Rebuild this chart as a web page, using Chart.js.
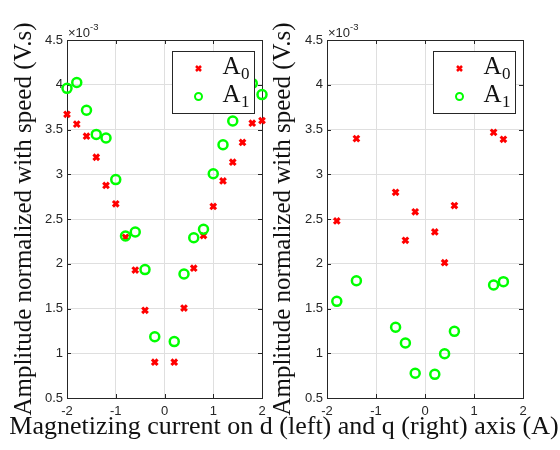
<!DOCTYPE html>
<html>
<head>
<meta charset="utf-8">
<script src="https://cdn.jsdelivr.net/npm/chart.js@4.4.1/dist/chart.umd.min.js"></script>
<style>
  html, body { margin: 0; padding: 0; background: #fff; overflow: hidden; }
  body { width: 560px; height: 450px; position: relative; }
  canvas { position: absolute; top: 0; }
  #left-plot { left: 0; }
  #right-plot { left: 270px; }
  #xlabel {
    position: absolute; left: 0; top: 413px; width: 568px;
    text-align: center; white-space: nowrap;
    font: 26px/26px "Liberation Serif", serif; color: #111;
  }
</style>
</head>
<body>
<canvas id="left-plot" width="290" height="450"></canvas>
<canvas id="right-plot" width="290" height="450"></canvas>
<div id="xlabel">Magnetizing current on d (left) and q (right) axis (A)</div>
<script>
// values in units of 1e-3 V.s
const dCurrent = [-2, -1.8, -1.6, -1.4, -1.2, -1, -0.8, -0.6, -0.4, -0.2, 0.2, 0.4, 0.6, 0.8, 1, 1.2, 1.4, 1.6, 1.8, 2];
const dA0 = [3.67, 3.56, 3.425, 3.19, 2.875, 2.67, 2.295, 1.93, 1.48, 0.90, 0.90, 1.505, 1.95, 2.315, 2.64, 2.925, 3.135, 3.355, 3.57, 3.60];
const dA1 = [3.96, 4.025, 3.715, 3.445, 3.405, 2.94, 2.31, 2.355, 1.935, 1.185, 1.13, 1.885, 2.29, 2.385, 3.005, 3.33, 3.595, 3.85, 4.015, 3.89];

const qCurrent = [-1.8, -1.4, -0.6, -0.4, -0.2, 0.2, 0.4, 0.6, 1.4, 1.6];
const qA0 = [2.478, 3.398, 2.798, 2.262, 2.58, 2.355, 2.012, 2.65, 3.468, 3.39];
const qA1 = [1.58, 1.81, 1.29, 1.115, 0.776, 0.764, 0.995, 1.245, 1.763, 1.80];

const yTicks = [0.5, 1, 1.5, 2, 2.5, 3, 3.5, 4, 4.5];
const xTicks = [-2, -1, 0, 1, 2];
const seriesNames = ['A', 'A'];
const seriesSubs = ['0', '1'];
const yTitle = 'Amplitude normalized with speed (V.s)';

const axisColor = '#262626';
const gridColor = '#dfdfdf';

function points(xs, ys) {
    return xs.map((x, i) => ({ x: x, y: ys[i] }));
}

// box, inward tick marks, legend, exponent and y label
const decorations = {
    id: 'decorations',
    beforeDatasetsDraw(chart) {
        const { ctx, chartArea: a, scales } = chart;
        ctx.save();
        ctx.strokeStyle = axisColor;
        ctx.lineWidth = 1;
        ctx.beginPath();
        xTicks.forEach(v => {
            const px = Math.round(scales.x.getPixelForValue(v)) + 0.5;
            ctx.moveTo(px, a.bottom); ctx.lineTo(px, a.bottom - 4);
            ctx.moveTo(px, a.top); ctx.lineTo(px, a.top + 4);
        });
        yTicks.forEach(v => {
            const py = Math.round(scales.y.getPixelForValue(v)) + 0.5;
            ctx.moveTo(a.left, py); ctx.lineTo(a.left + 4, py);
            ctx.moveTo(a.right, py); ctx.lineTo(a.right - 4, py);
        });
        ctx.stroke();
        ctx.strokeRect(Math.round(a.left) + 0.5, Math.round(a.top) + 0.5,
            Math.round(a.right - a.left), Math.round(a.bottom - a.top));
        ctx.restore();
    },
    afterDatasetsDraw(chart, args, opts) {
        const { ctx, chartArea: a } = chart;
        ctx.save();

        // legend
        const bx = Math.round(a.right) - 89.5, by = Math.round(a.top) + 11.5;
        ctx.fillStyle = '#fff';
        ctx.fillRect(bx, by, 82, 62);
        ctx.strokeStyle = axisColor;
        ctx.lineWidth = 1;
        ctx.strokeRect(bx, by, 82, 62);
        chart.data.datasets.forEach((ds, i) => {
            const ry = by + 17 + i * 28;
            const mx = bx + 26;
            ctx.lineWidth = 2;
            ctx.strokeStyle = ds.borderColor;
            ctx.beginPath();
            if (ds.pointStyle === 'crossRot') {
                ctx.moveTo(mx - 2.5, ry - 2.5); ctx.lineTo(mx + 2.5, ry + 2.5);
                ctx.moveTo(mx + 2.5, ry - 2.5); ctx.lineTo(mx - 2.5, ry + 2.5);
                ctx.lineWidth = 2.5;
            } else {
                ctx.arc(mx, ry, 3.5, 0, Math.PI * 2);
            }
            ctx.stroke();
            ctx.fillStyle = '#111';
            ctx.textBaseline = 'alphabetic';
            ctx.textAlign = 'left';
            ctx.font = '25px "Liberation Serif"';
            const tx = bx + 50;
            ctx.fillText(seriesNames[i], tx, ry + 5);
            const w = ctx.measureText(seriesNames[i]).width;
            ctx.font = '17px "Liberation Serif"';
            ctx.fillText(seriesSubs[i], tx + w + 0.5, ry + 10);
        });

        // exponent
        ctx.fillStyle = axisColor;
        ctx.font = '13px "Liberation Sans"';
        ctx.fillText('\u00d710', a.left + 1, a.top - 3);
        const ew = ctx.measureText('\u00d710').width;
        ctx.font = '9.5px "Liberation Sans"';
        ctx.fillText('-3', a.left + 1 + ew, a.top - 10);

        // y label
        ctx.translate(opts.labelX, (a.top + a.bottom) / 2);
        ctx.rotate(-Math.PI / 2);
        ctx.textAlign = 'center';
        ctx.textBaseline = 'middle';
        ctx.fillStyle = '#111';
        ctx.font = '25px "Liberation Serif"';
        ctx.fillText(yTitle, 0, 0);
        ctx.restore();
    }
};

function makeChart(id, xs, a0, a1, yAxisWidth, rightPad, labelX) {
    return new Chart(document.getElementById(id), {
        type: 'scatter',
        data: {
            datasets: [
                {
                    label: 'A0',
                    data: points(xs, a0),
                    pointStyle: 'crossRot',
                    pointRadius: 4,
                    pointHoverRadius: 4,
                    borderWidth: 3,
                    borderColor: '#ff0000',
                    backgroundColor: '#ff0000',
                    clip: false,
                    order: 1
                },
                {
                    label: 'A1',
                    data: points(xs, a1),
                    pointStyle: 'circle',
                    pointRadius: 4.5,
                    pointHoverRadius: 4.5,
                    borderWidth: 2.5,
                    borderColor: '#00ff00',
                    backgroundColor: 'rgba(0,0,0,0)',
                    clip: false,
                    order: 0
                }
            ]
        },
        options: {
            responsive: false,
            animation: false,
            events: [],
            layout: { padding: { top: 40, right: rightPad, bottom: 0, left: 0 } },
            plugins: {
                legend: { display: false },
                tooltip: { enabled: false },
                decorations: { labelX: labelX }
            },
            scales: {
                x: {
                    type: 'linear',
                    min: -2,
                    max: 2,
                    afterBuildTicks: scale => { scale.ticks = xTicks.map(v => ({ value: v })); },
                    afterFit: scale => { scale.height = 52; },
                    grid: { color: gridColor, drawTicks: false },
                    border: { display: false },
                    ticks: {
                        color: axisColor,
                        padding: 6,
                        maxRotation: 0,
                        callback: v => String(v),
                        font: { family: 'Liberation Sans', size: 13 }
                    }
                },
                y: {
                    type: 'linear',
                    min: 0.5,
                    max: 4.5,
                    afterBuildTicks: scale => { scale.ticks = yTicks.map(v => ({ value: v })); },
                    afterFit: scale => { scale.width = yAxisWidth; },
                    grid: { color: gridColor, drawTicks: false },
                    border: { display: false },
                    ticks: {
                        color: axisColor,
                        padding: 4,
                        callback: v => String(v),
                        font: { family: 'Liberation Sans', size: 13 }
                    }
                }
            }
        },
        plugins: [decorations]
    });
}

makeChart('left-plot', dCurrent, dA0, dA1, 67, 28, 24);
makeChart('right-plot', qCurrent, qA0, qA1, 57, 37, 13);
</script>
</body>
</html>
